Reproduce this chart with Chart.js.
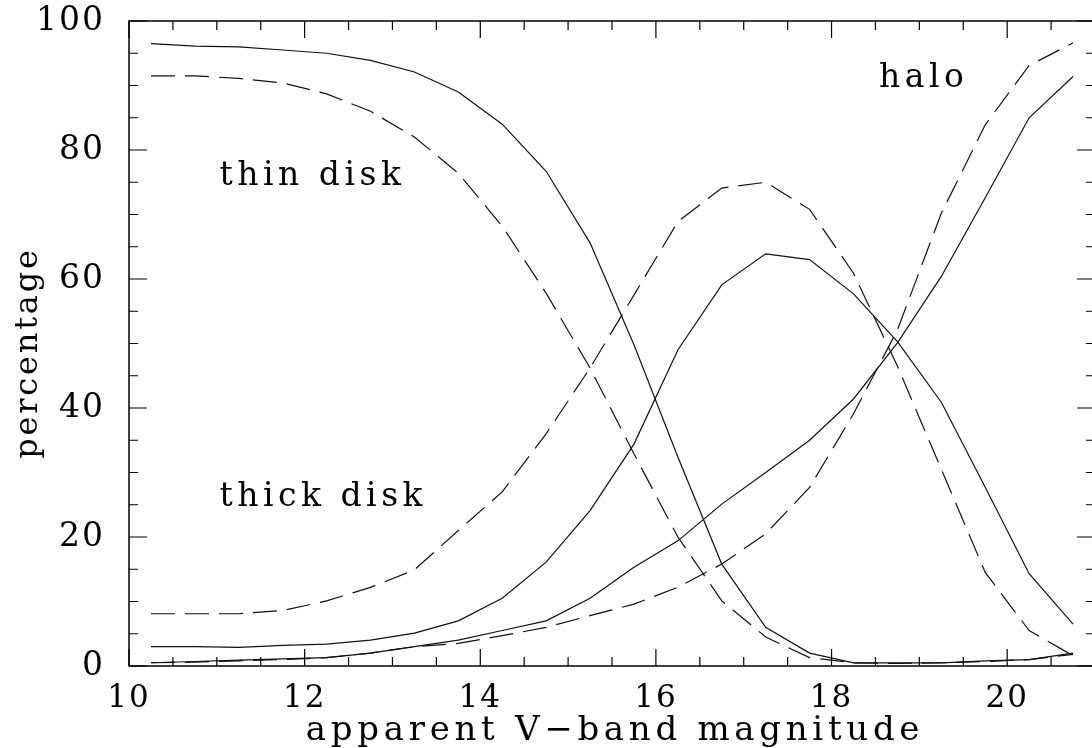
<!DOCTYPE html>
<html>
<head>
<meta charset="utf-8">
<script src="https://cdn.jsdelivr.net/npm/chart.js@4.4.1/dist/chart.umd.min.js"></script>
<style>
  html, body { margin: 0; padding: 0; background: #fff; overflow: hidden; }
  #wrap { width: 1100px; height: 748px; }
</style>
</head>
<body>
<div id="wrap"><canvas id="chart" width="1100" height="748"></canvas></div>
<script>
// bin centres (apparent V magnitude)
const magnitudes = [10.25, 10.75, 11.25, 11.75, 12.25, 12.75, 13.25, 13.75, 14.25, 14.75, 15.25,
                    15.75, 16.25, 16.75, 17.25, 17.75, 18.25, 18.75, 19.25, 19.75, 20.25, 20.75];

// percentages, solid curves
const thinSolid  = [96.5, 96.1, 96.0, 95.5, 95.0, 93.9, 92.1, 89.0, 84.0, 76.7, 65.6,
                    49.8, 32.4, 15.8, 6.0, 2.0, 0.5, 0.5, 0.5, 0.8, 1.0, 2.0];
const thickSolid = [3.0, 3.0, 2.9, 3.2, 3.4, 4.0, 5.1, 7.0, 10.5, 16.1, 24.1,
                    34.4, 49.0, 59.1, 63.9, 63.0, 57.7, 50.3, 40.9, 27.7, 14.3, 6.5];
const haloSolid  = [0.5, 0.7, 0.9, 1.1, 1.3, 2.0, 3.0, 4.0, 5.5, 7.0, 10.5,
                    15.3, 19.4, 25.1, 30.0, 35.0, 41.4, 50.1, 60.4, 72.6, 85.0, 91.4];

// percentages, dashed curves
const thinDashed  = [91.5, 91.5, 91.1, 90.4, 88.7, 86.0, 82.0, 76.4, 68.2, 57.8, 46.2,
                     32.9, 20.0, 10.1, 4.5, 1.3, 0.5, 0.4, 0.5, 0.7, 1.0, 1.8];
const thickDashed = [8.1, 8.1, 8.1, 8.6, 10.1, 12.2, 14.9, 21.0, 27.0, 36.0, 46.2,
                     57.5, 68.9, 74.1, 75.0, 70.8, 60.9, 46.5, 30.5, 14.5, 5.5, 1.6];
const haloDashed  = [0.5, 0.6, 0.8, 1.0, 1.3, 2.0, 3.0, 3.5, 4.7, 6.0, 7.8,
                     9.6, 12.2, 15.8, 20.5, 27.7, 39.1, 52.1, 70.2, 83.9, 93.1, 96.6];

// curve labels: text, magnitude, percentage (baseline left)
const curveLabels = [
    { text: 'thin disk',  x: 11.03, y: 74.6 },
    { text: 'thick disk', x: 11.03, y: 24.8 },
    { text: 'halo',       x: 18.54, y: 89.8 },
];

const xTitle = 'apparent V\u2212band magnitude';
const yTitle = 'percentage';

const serif = '"DejaVu Serif", "Liberation Serif", serif';

function series(values, dashed) {
    return {
        data: magnitudes.map((m, i) => ({ x: m, y: values[i] })),
        borderColor: '#111',
        borderWidth: 1.2,
        borderDash: dashed ? [24, 10] : [],
        pointRadius: 0,
        fill: false,
        tension: 0,
    };
}

// frame with inward ticks on all four sides, curve labels and axis titles
const framePlugin = {
    id: 'frame',
    afterDatasetsDraw(chart) {
        const { ctx, chartArea: a, scales: { x, y } } = chart;
        ctx.save();
        ctx.strokeStyle = '#000';
        ctx.lineWidth = 1.5;
        ctx.strokeRect(a.left, a.top, a.right - a.left, a.bottom - a.top);
        ctx.lineWidth = 1.2;
        ctx.beginPath();
        for (let v = 10; v <= 21; v += 0.5) {
            const px = x.getPixelForValue(v);
            const len = v % 2 === 0 ? 17 : 9;
            ctx.moveTo(px, a.bottom); ctx.lineTo(px, a.bottom - len);
            ctx.moveTo(px, a.top); ctx.lineTo(px, a.top + len);
        }
        for (let v = 0; v <= 100; v += 5) {
            const py = y.getPixelForValue(v);
            const len = v % 20 === 0 ? 18 : 9;
            ctx.moveTo(a.left, py); ctx.lineTo(a.left + len, py);
            ctx.moveTo(a.right, py); ctx.lineTo(a.right - len, py);
        }
        ctx.stroke();

        ctx.fillStyle = '#000';
        ctx.textBaseline = 'alphabetic';
        ctx.font = '33px ' + serif;
        ctx.letterSpacing = '4.5px';
        ctx.textAlign = 'left';
        curveLabels.forEach(l => {
            ctx.fillText(l.text, x.getPixelForValue(l.x), y.getPixelForValue(l.y));
        });

        // axis titles
        ctx.textAlign = 'center';
        ctx.font = '34px ' + serif;
        ctx.letterSpacing = '4.7px';
        ctx.fillText(xTitle, 615, 740);
        ctx.font = '32px ' + serif;
        ctx.letterSpacing = '2.8px';
        ctx.translate(37, 353);
        ctx.rotate(-Math.PI / 2);
        ctx.fillText(yTitle, 0, 0);
        ctx.restore();
        // spacing for the tick labels drawn after this hook
        ctx.letterSpacing = '2px';
    },
};

new Chart(document.getElementById('chart'), {
    type: 'line',
    data: {
        datasets: [
            series(thinSolid, false),
            series(thinDashed, true),
            series(thickSolid, false),
            series(thickDashed, true),
            series(haloSolid, false),
            series(haloDashed, true),
        ],
    },
    options: {
        responsive: false,
        devicePixelRatio: 1,
        animation: false,
        layout: { padding: { top: 21, right: 5, left: 0, bottom: 0 } },
        plugins: { legend: { display: false }, tooltip: { enabled: false } },
        scales: {
            x: {
                type: 'linear',
                min: 10,
                max: 21,
                grid: { display: false, drawTicks: false },
                border: { display: false },
                ticks: {
                    stepSize: 2,
                    includeBounds: false,
                    color: '#000',
                    padding: 14,
                    maxRotation: 0,
                    z: 1,
                    font: { family: serif, size: 31 },
                },
                afterFit(s) {
                    s.height = 82;
                    s.paddingLeft = 0;
                    s.paddingRight = 0;
                },
            },
            y: {
                min: 0,
                max: 100,
                grid: { display: false, drawTicks: false },
                border: { display: false },
                ticks: {
                    stepSize: 20,
                    color: '#000',
                    padding: 24,
                    z: 1,
                    font: { family: serif, size: 33 },
                },
                afterFit(s) {
                    s.width = 129;
                    s.paddingTop = 0;
                    s.paddingBottom = 0;
                },
            },
        },
    },
    plugins: [framePlugin],
});
</script>
</body>
</html>
